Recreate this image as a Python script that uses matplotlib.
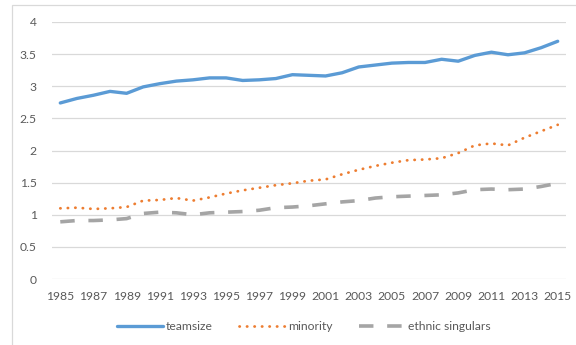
import numpy as np
import matplotlib
matplotlib.use("Agg")
import matplotlib.pyplot as plt
from matplotlib.patches import Rectangle

years = list(range(1985, 2016))
teamsize = [2.74, 2.81, 2.86, 2.92, 2.89, 2.99, 3.04, 3.08, 3.10, 3.13,
            3.13, 3.09, 3.10, 3.12, 3.18, 3.17, 3.16, 3.21, 3.30, 3.33,
            3.36, 3.37, 3.37, 3.42, 3.39, 3.48, 3.53, 3.49, 3.52, 3.60, 3.70]
minority = [1.10, 1.11, 1.09, 1.10, 1.12, 1.22, 1.23, 1.26, 1.22, 1.27,
            1.33, 1.38, 1.42, 1.46, 1.49, 1.53, 1.55, 1.63, 1.70, 1.76,
            1.81, 1.85, 1.86, 1.88, 1.96, 2.08, 2.11, 2.08, 2.20, 2.30, 2.40]
singulars = [0.89, 0.91, 0.91, 0.92, 0.94, 1.02, 1.04, 1.03, 1.00, 1.03,
             1.04, 1.05, 1.07, 1.11, 1.12, 1.14, 1.17, 1.20, 1.22, 1.26,
             1.28, 1.29, 1.30, 1.31, 1.34, 1.39, 1.40, 1.39, 1.40, 1.44, 1.49]
xtick_years = years[::2]
yticks = [0, 0.5, 1, 1.5, 2, 2.5, 3, 3.5, 4]

plt.rcParams['font.family'] = ['Lato', 'DejaVu Sans']
txt = '#595959'
grid = '#D9D9D9'

fig = plt.figure(figsize=(5.76, 3.45), dpi=100)
ax = fig.add_axes([52/576, 1 - 279/345, 514/576, 257/345])

ax.plot(years, teamsize, color='#5B9BD5', lw=2.4, solid_capstyle='round',
        label='teamsize', zorder=3)
ax.plot(years, minority, color='#ED7D31', lw=2.0, linestyle=(0, (0.1, 2.6)),
        dash_capstyle='round', label='minority', zorder=3)
ax.plot(years, singulars, color='#A5A5A5', lw=2.6, linestyle=(0, (4, 3.8)),
        dash_capstyle='butt', label='ethnic singulars', zorder=3)

ax.set_xlim(1984.5, 2015.5)
ax.set_ylim(0, 4)
ax.set_yticks(yticks)
ax.set_yticklabels(['0', '0.5', '1', '1.5', '2', '2.5', '3', '3.5', '4'])
ax.set_xticks(xtick_years)
ax.set_xticklabels([str(y) for y in xtick_years])
ax.tick_params(axis='both', length=0, labelsize=8.7, labelcolor=txt)
ax.tick_params(axis='y', pad=11)
ax.tick_params(axis='x', pad=9)
ax.grid(axis='y', color=grid, lw=0.9)
ax.set_axisbelow(True)
for s in ax.spines.values():
    s.set_visible(False)

fig.legend(loc='center', bbox_to_anchor=(304/576, 1 - 327/345), ncol=3,
           frameon=False, fontsize=8.7, labelcolor=txt, handlelength=3.8,
           handletextpad=0.25, columnspacing=2.2)

# outer chart frame
fig.add_artist(Rectangle((12/576, -0.1), 1.2, 1.1 - 5/345,
                         transform=fig.transFigure, fill=False,
                         edgecolor=grid, lw=0.9, clip_on=False))

fig.savefig('out.png', dpi=100, facecolor='white')
